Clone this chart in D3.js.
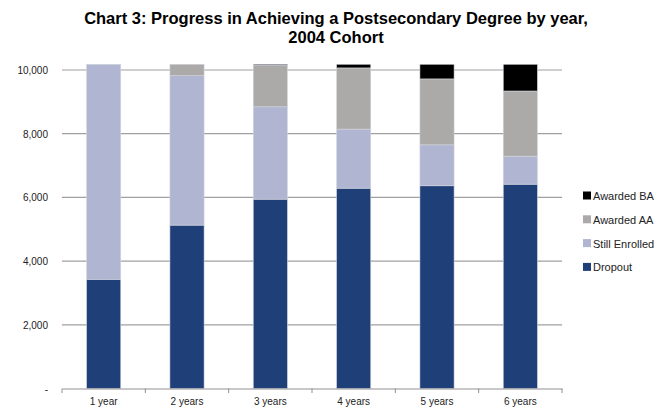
<!DOCTYPE html>
<html><head><meta charset="utf-8">
<script src="https://cdn.jsdelivr.net/npm/d3@7"></script>
<style>body{margin:0;background:#fff}svg{display:block}</style>
</head><body>
<svg id="c" width="671" height="416"></svg>
<script>
const categories = ["1 year","2 years","3 years","4 years","5 years","6 years"];
const dropout   = [3430, 5130, 5945, 6290, 6365, 6415];
const enrolled  = [6750, 4690, 2900, 1855, 1285, 880];
const awardedAA = [0, 360, 1305, 1920, 2070, 2045];
const awardedBA = [0, 0, 30, 115, 460, 840];
const seriesNames = ["Dropout","Still Enrolled","Awarded AA","Awarded BA"];
const yTicks = [0,2000,4000,6000,8000,10000];
const colors = ["#1f3f78","#b0b5d1","#abaaa8","#000000"];

const svg = d3.select("#c");
const font = "'Liberation Sans', Arial, sans-serif";
const x = d3.scaleBand().domain(categories).range([62,562]).paddingInner(0.59).paddingOuter(0.295);
const y = d3.scaleLinear().domain([0,10000]).range([388.5,70]);

svg.append("text").attr("x",336).attr("y",24).attr("text-anchor","middle")
  .attr("font-family",font).attr("font-weight","bold").attr("font-size",16.5)
  .text("Chart 3: Progress in Achieving a Postsecondary Degree by year,");
svg.append("text").attr("x",336).attr("y",43).attr("text-anchor","middle")
  .attr("font-family",font).attr("font-weight","bold").attr("font-size",16.5)
  .text("2004 Cohort");

// gridlines
svg.append("g").selectAll("line").data(yTicks.filter(d=>d>0)).join("line")
  .attr("x1",62).attr("x2",562).attr("y1",d=>y(d)).attr("y2",d=>y(d))
  .attr("stroke","#a0a0a0").attr("stroke-width",1.2);

// y labels
svg.append("g").selectAll("text").data(yTicks).join("text")
  .attr("x",48).attr("y",d=>y(d)+4).attr("text-anchor","end")
  .attr("font-family",font).attr("font-size",10).attr("fill","#222")
  .text(d=>d===0?"-":d3.format(",")(d));

// stacked bars
const rows = categories.map((c,i)=>({cat:c,"Dropout":dropout[i],"Still Enrolled":enrolled[i],"Awarded AA":awardedAA[i],"Awarded BA":awardedBA[i]}));
const stack = d3.stack().keys(seriesNames)(rows);
svg.append("g").selectAll("g").data(stack).join("g").attr("fill",(d,i)=>colors[i])
  .selectAll("rect").data(d=>d).join("rect")
  .attr("x",d=>x(d.data.cat)).attr("width",x.bandwidth())
  .attr("y",d=>y(d[1])).attr("height",d=>Math.max(0,y(d[0])-y(d[1])))
  .attr("stroke","#d4d6de").attr("stroke-width",0.6);

// x axis
const xAxis = d3.axisBottom(x).tickSize(0).tickPadding(9);
const gx = svg.append("g").attr("transform","translate(0,388.5)").call(xAxis);
gx.select(".domain").attr("stroke","#909090");
gx.selectAll("text").attr("font-family",font).attr("font-size",10).attr("fill","#222");
const bounds = categories.map(c=>x(c)-x.step()*x.paddingInner()/2);
bounds.push(562);
bounds[0]=62;
svg.append("g").selectAll("line").data(bounds).join("line")
  .attr("x1",d=>d).attr("x2",d=>d).attr("y1",388.5).attr("y2",393)
  .attr("stroke","#909090");

// legend
const leg = svg.append("g");
const legItems = seriesNames.map((n,i)=>({n,c:colors[i]})).reverse();
legItems.forEach((d,i)=>{
  const yy = 196 + i*23.8;
  leg.append("rect").attr("x",583).attr("y",yy-4.5).attr("width",8).attr("height",8).attr("fill",d.c);
  leg.append("text").attr("x",593).attr("y",yy+4).attr("font-family",font).attr("font-size",11)
    .attr("fill","#222").text(d.n);
});
</script>
</body></html>
